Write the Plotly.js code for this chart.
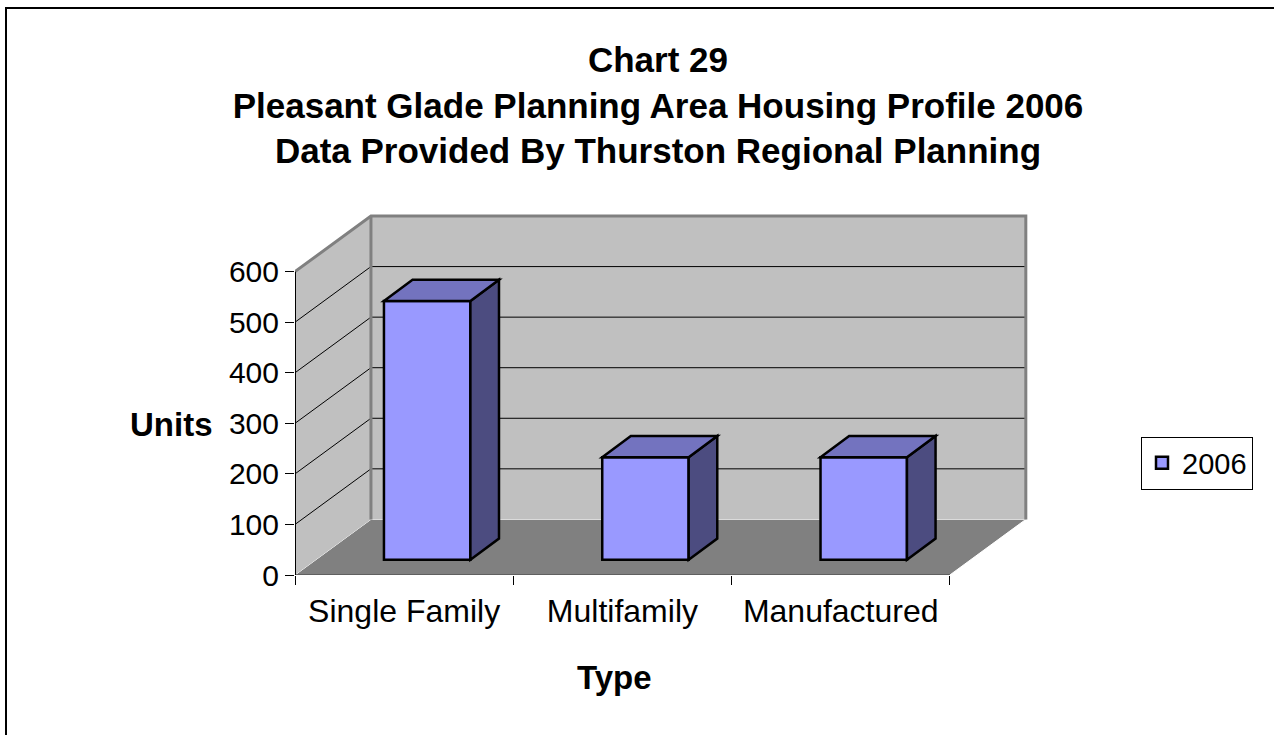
<!DOCTYPE html>
<html><head><meta charset="utf-8">
<script src="https://cdn.plot.ly/plotly-3.0.1.min.js"></script>
<style>html,body{margin:0;padding:0;background:#fff}#chart{width:1274px;height:735px}</style>
</head><body><div id="chart"></div>
<script>
// ---- data ----
const categories = ['Single Family', 'Multifamily', 'Manufactured'];
const units2006 = [512, 203, 203];
const seriesName = '2006';
const yTickVals = [0, 100, 200, 300, 400, 500, 600];
const titleLines = ['Chart 29', 'Pleasant Glade Planning Area Housing Profile 2006', 'Data Provided By Thurston Regional Planning'];
const xTitle = 'Type';
const yTitle = 'Units';

// ---- geometry / style ----
const W = 1274, H = 735;
const ML = 295, MR = 246, MT = 213, MB = 160;
const PW = W - ML - MR, PH = H - MT - MB;
const DX = 0.348, DY = 110;          // depth of the 3D box (axis units)
const YTOP = yTickVals[yTickVals.length - 1];
const YMAX = YTOP + DY + 6;
const XMIN = -0.5, XEND = categories.length - 0.5;
const XMAX = XEND + DX + 0.01;
const BASE = 30, OFF = -0.0925, BW = 0.396, BDX = 0.131, BDY = 42; // bar placement in depth
const FONT = 'Arial, "Liberation Sans", sans-serif';
const px2x = p => (p - ML) / PW;
const py2y = p => (H - MB - p) / PH;

const shapes = [];
// floor
shapes.push({type:'path', xref:'x', yref:'y', layer:'below',
  path:`M${XMIN},0 L${XEND},0 L${XEND+DX},${DY} L${XMIN+DX},${DY} Z`,
  fillcolor:'#808080', line:{color:'#ffffff', width:1}});
// left wall
shapes.push({type:'path', xref:'x', yref:'y', layer:'below',
  path:`M${XMIN},0 L${XMIN},${YTOP} L${XMIN+DX},${YTOP+DY} L${XMIN+DX},${DY} Z`,
  fillcolor:'#c0c0c0', line:{width:0}});
// back wall
shapes.push({type:'path', xref:'x', yref:'y', layer:'below',
  path:`M${XMIN+DX},${DY} L${XEND+DX},${DY} L${XEND+DX},${YTOP+DY} L${XMIN+DX},${YTOP+DY} Z`,
  fillcolor:'#c0c0c0', line:{width:0}});
// gridlines
yTickVals.forEach(t => {
  if (t > 0 && t < YTOP) {
    shapes.push({type:'line', xref:'x', yref:'y', layer:'below', x0:XMIN+DX, x1:XEND+DX, y0:t+DY, y1:t+DY, line:{color:'#000', width:1}});
    shapes.push({type:'line', xref:'x', yref:'y', layer:'below', x0:XMIN, x1:XMIN+DX, y0:t, y1:t+DY, line:{color:'#000', width:1}});
  }
});
// wall borders
shapes.push({type:'path', xref:'x', yref:'y', layer:'below',
  path:`M${XMIN},${YTOP} L${XMIN+DX},${YTOP+DY} L${XEND+DX},${YTOP+DY} L${XEND+DX},${DY}`,
  line:{color:'#808080', width:3}});
shapes.push({type:'line', xref:'x', yref:'y', layer:'below', x0:XMIN+DX, x1:XMIN+DX, y0:DY, y1:YTOP+DY, line:{color:'#808080', width:3}});
// axis lines
shapes.push({type:'line', xref:'x', yref:'y', layer:'below', x0:XMIN, x1:XMIN, y0:0, y1:YTOP, line:{color:'#000', width:2}});
shapes.push({type:'line', xref:'x', yref:'y', layer:'below', x0:XMIN, x1:XEND, y0:0, y1:0, line:{color:'#000', width:1}});
// bar top and side faces
units2006.forEach((v, i) => {
  const x0 = i + OFF, x1 = x0 + BW, yb = BASE, yt = BASE + v;
  shapes.push({type:'path', xref:'x', yref:'y', layer:'above',
    path:`M${x1},${yb} L${x1+BDX},${yb+BDY} L${x1+BDX},${yt+BDY} L${x1},${yt} Z`,
    fillcolor:'#4c4c80', line:{color:'#000', width:2.5}});
  shapes.push({type:'path', xref:'x', yref:'y', layer:'above',
    path:`M${x0},${yt} L${x0+BDX},${yt+BDY} L${x1+BDX},${yt+BDY} L${x1},${yt} Z`,
    fillcolor:'#7373bf', line:{color:'#000', width:2.5}});
});
// chart border
shapes.push({type:'rect', xref:'paper', yref:'paper', layer:'above',
  x0:px2x(6), x1:px2x(W+10), y0:py2y(H+10), y1:py2y(8), line:{color:'#000', width:2}});

const trace = {
  type:'bar', name:seriesName, x:categories, y:units2006,
  base:BASE, offset:OFF, width:BW,
  marker:{color:'#9999ff', line:{color:'#000', width:2.5}},
  hoverinfo:'x+y'
};

const layout = {
  width:W, height:H,
  margin:{l:ML, r:MR, t:MT, b:MB, pad:0},
  paper_bgcolor:'#fff', plot_bgcolor:'rgba(0,0,0,0)',
  font:{family:FONT, color:'#000'},
  title:{text:titleLines.join('<br>'), font:{size:35, weight:'bold', family:FONT},
    x:658/W, xref:'container', xanchor:'center', y:1-72/H, yref:'container', yanchor:'top'},
  xaxis:{type:'category', range:[XMIN, XMAX], autorange:false, tickson:'boundaries',
    ticks:'outside', ticklen:9, tickwidth:1, tickcolor:'#000', ticklabelstandoff:14,
    showgrid:false, zeroline:false, showline:false, tickfont:{size:32}},
  yaxis:{range:[0, YMAX], autorange:false, tickvals:yTickVals, ticks:'outside', ticklen:9, tickwidth:1, tickcolor:'#000',
    showgrid:false, zeroline:false, showline:false, tickfont:{size:30}},
  legend:{x:px2x(1141), xanchor:'left', y:py2y(463), yanchor:'middle',
    bordercolor:'#000', borderwidth:1, bgcolor:'#fff', font:{size:29}},
  showlegend:true,
  shapes:shapes,
  annotations:[
    {text:yTitle, xref:'paper', yref:'paper', x:px2x(171), y:py2y(424), xanchor:'center', yanchor:'middle', showarrow:false, font:{size:33, weight:'bold'}},
    {text:xTitle, xref:'paper', yref:'paper', x:px2x(614), y:py2y(677), xanchor:'center', yanchor:'middle', showarrow:false, font:{size:33, weight:'bold'}}
  ]
};

Plotly.newPlot('chart', [trace], layout, {displayModeBar:false, staticPlot:true});
</script>
</body></html>
